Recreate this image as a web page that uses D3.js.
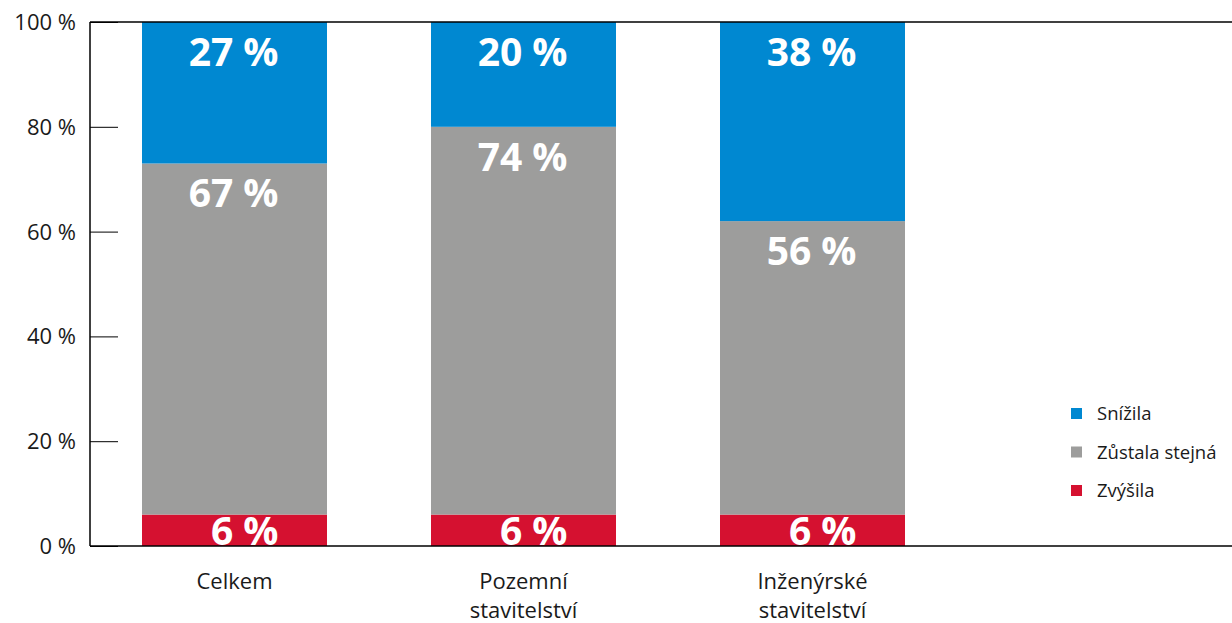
<!DOCTYPE html>
<html>
<head>
<meta charset="utf-8">
<script src="https://cdn.jsdelivr.net/npm/d3@7"></script>
<style>
  body { margin: 0; background: #fff; }
  text { font-family: "Open Sans", sans-serif; }
</style>
</head>
<body>
<div id="chart"></div>
<script>
const categories = ["Celkem", "Pozemní stavitelství", "Inženýrské stavitelství"];
const categoryLines = [["Celkem"], ["Pozemní", "stavitelství"], ["Inženýrské", "stavitelství"]];
const seriesNames = ["Zvýšila", "Zůstala stejná", "Snížila"];
const zvysila = [6, 6, 6];
const zustala = [67, 74, 56];
const snizila = [27, 20, 38];
const yTicks = [0, 20, 40, 60, 80, 100];
const colors = ["#d51130", "#9d9d9c", "#0088d1"];

const width = 1232, height = 623;
const margin = {top: 22, right: 0, bottom: 77, left: 90};

const svg = d3.select("#chart").append("svg")
    .attr("width", width)
    .attr("height", height);

const table = categories.map((c, i) => ({cat: c, "Zvýšila": zvysila[i], "Zůstala stejná": zustala[i], "Snížila": snizila[i]}));
const stacked = d3.stack().keys(seriesNames)(table);

// bars are 185 wide, 289 apart
const x = d3.scaleBand()
    .domain(categories)
    .range([142, 142 + 289 * 3 - 104])
    .paddingInner(104 / 289)
    .paddingOuter(0);

const y = d3.scaleLinear()
    .domain([0, 100])
    .range([height - margin.bottom, margin.top]);

// y axis with inward ticks
const yAxis = svg.append("g")
    .attr("transform", `translate(${margin.left},0)`)
    .call(d3.axisRight(y).tickValues(yTicks).tickSize(28).tickFormat(""));
yAxis.select(".domain").remove();
yAxis.selectAll("line").attr("stroke", "#000").attr("stroke-width", 1);

svg.append("g").selectAll("text")
    .data(yTicks)
    .join("text")
    .attr("x", 76)
    .attr("y", d => y(d) + 8)
    .attr("text-anchor", "end")
    .attr("font-size", 22)
    .attr("fill", "#1a1a1a")
    .text(d => d + " %");

// bars
const layers = svg.append("g").selectAll("g")
    .data(stacked)
    .join("g")
    .attr("fill", (d, i) => colors[i]);

layers.selectAll("rect")
    .data(d => d)
    .join("rect")
    .attr("x", d => x(d.data.cat))
    .attr("y", d => y(d[1]))
    .attr("width", x.bandwidth())
    .attr("height", d => y(d[0]) - y(d[1]));

// value labels, right aligned like the original
layers.selectAll("text")
    .data(d => d.map(v => ({v, val: v[1] - v[0]})))
    .join("text")
    .attr("x", d => x(d.v.data.cat) + x.bandwidth() / 2 + 44)
    .attr("y", d => Math.min(y(d.v[1]) + 44, y(d.v[0]) - 1))
    .attr("text-anchor", "end")
    .attr("font-size", 39)
    .attr("font-weight", "bold")
    .attr("fill", "#fff")
    .text(d => d.val + " %");

// axes lines
svg.append("line")
    .attr("x1", margin.left).attr("x2", margin.left)
    .attr("y1", y(100)).attr("y2", y(0))
    .attr("stroke", "#000").attr("stroke-width", 1.5);
svg.append("line")
    .attr("x1", margin.left).attr("x2", width)
    .attr("y1", y(0)).attr("y2", y(0))
    .attr("stroke", "#000").attr("stroke-width", 1.5);
svg.append("line")
    .attr("x1", margin.left).attr("x2", width)
    .attr("y1", y(100)).attr("y2", y(100))
    .attr("stroke", "#000").attr("stroke-width", 1.5);

// category labels
svg.append("g").selectAll("text")
    .data(categories)
    .join("text")
    .attr("text-anchor", "middle")
    .attr("font-size", 22)
    .attr("fill", "#1a1a1a")
    .attr("transform", d => `translate(${x(d) + x.bandwidth() / 2},589)`)
    .each(function(d, i) {
        d3.select(this).selectAll("tspan")
            .data(categoryLines[i])
            .join("tspan")
            .attr("x", 0)
            .attr("dy", (l, j) => j === 0 ? 0 : 29)
            .text(l => l);
    });

// legend
const legendItems = seriesNames.slice().reverse();
const legend = svg.append("g").attr("transform", "translate(1071,408)");
legend.selectAll("rect")
    .data(legendItems)
    .join("rect")
    .attr("x", 0)
    .attr("y", (d, i) => i * 38.5)
    .attr("width", 11)
    .attr("height", 11)
    .attr("fill", d => colors[seriesNames.indexOf(d)]);
legend.selectAll("text")
    .data(legendItems)
    .join("text")
    .attr("x", 26)
    .attr("y", (d, i) => i * 38.5 + 12)
    .attr("font-size", 18.5)
    .attr("fill", "#1a1a1a")
    .text(d => d);
</script>
</body>
</html>
